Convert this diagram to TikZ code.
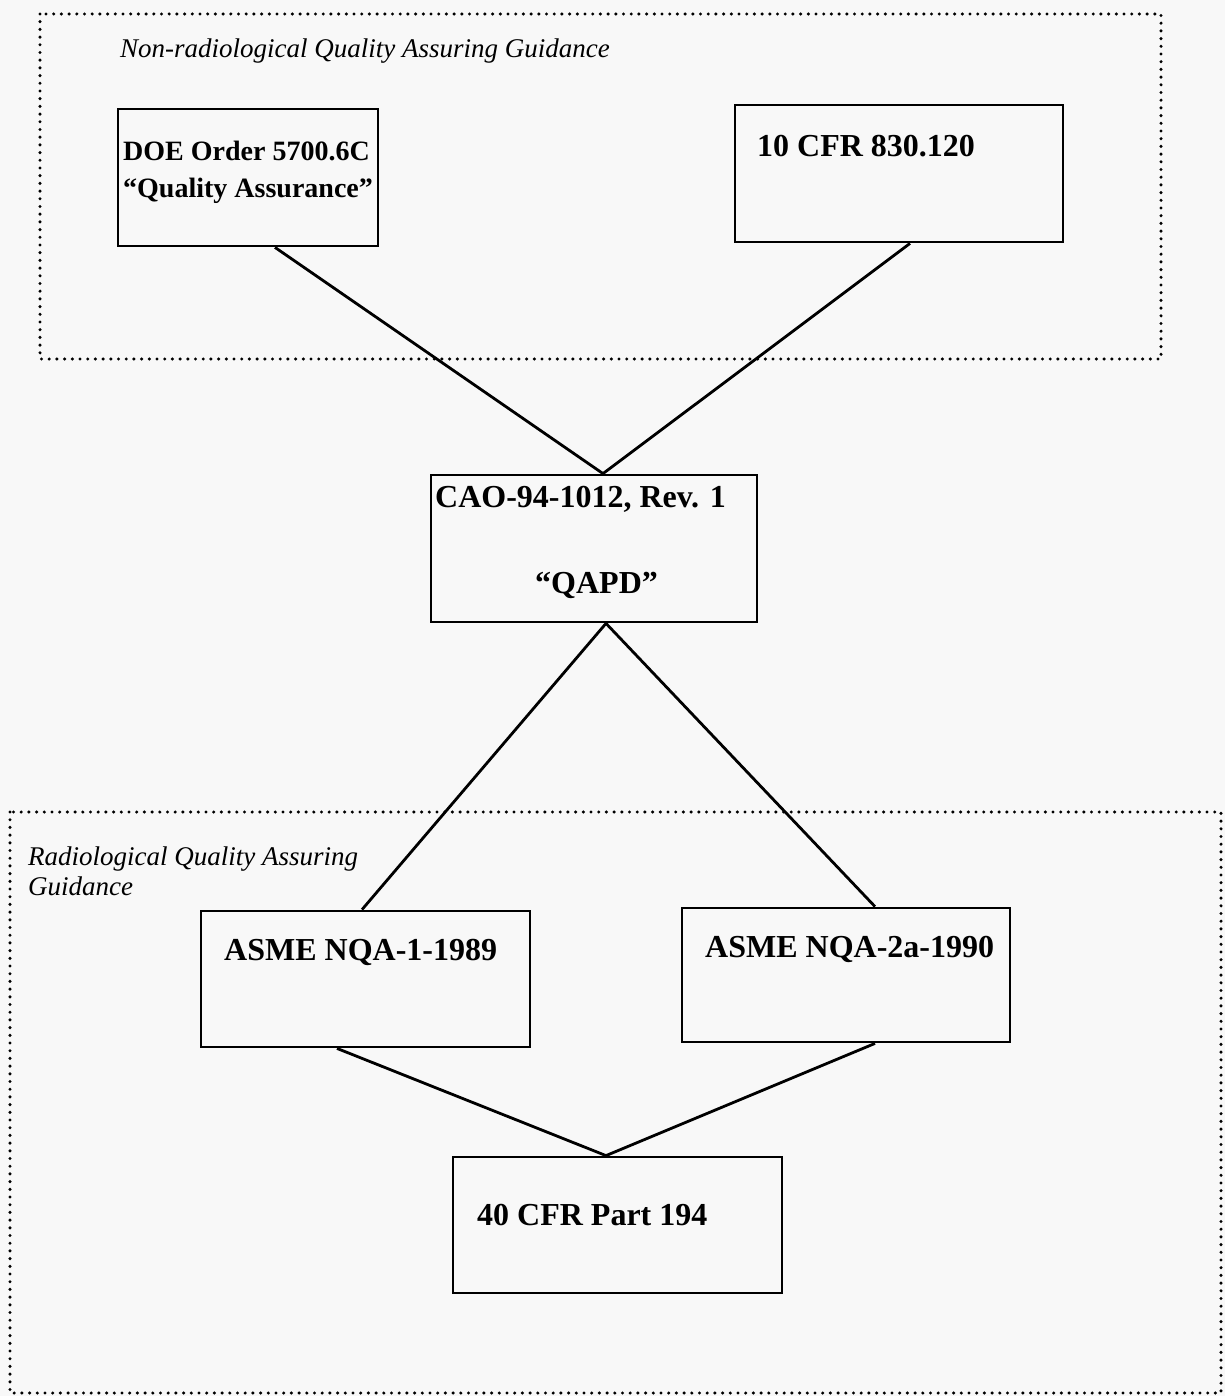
\documentclass[tikz,border=0pt]{standalone}
\usepackage{fontspec}
\setmainfont{Liberation Serif}
\usetikzlibrary{calc}
\definecolor{paper}{HTML}{F8F8F8}
\begin{document}
\begin{tikzpicture}[x=1pt,y=-1pt,
  box/.style={draw,line width=2.8pt,rectangle,inner sep=0pt},
  lbl/.style={font=\fontsize{32}{37}\selectfont\bfseries,anchor=base west,inner sep=0pt},
  lblsmall/.style={font=\fontsize{28}{37}\selectfont\bfseries,anchor=base west,inner sep=0pt},
  ttl/.style={font=\fontsize{27}{31}\selectfont\itshape,anchor=base west,inner sep=0pt},
  grp/.style={draw,line width=3.4pt,line cap=round,dash pattern=on 0pt off 7.7pt},
  link/.style={line width=2.8pt}]
\fill[paper] (0,0) rectangle (1225,1396);
\useasboundingbox (0,0) rectangle (1225,1396);

% groups
\draw[grp] (40,14) rectangle (1161,359);
\draw[grp] (10,812) rectangle (1221,1393);
\node[ttl] (t1) at (120,58) {Non-radiological Quality Assuring Guidance};
\node[ttl] (t2a) at (28,865) {Radiological Quality Assuring};
\node[ttl] (t2b) at (28,895) {Guidance};

% boxes
\node[box,minimum width=260pt,minimum height=137pt] (doe) at (248,177.5) {};
\node[box,minimum width=328pt,minimum height=137pt] (cfr10) at (899,173.5) {};
\node[box,minimum width=326pt,minimum height=147pt] (cao) at (594,548.5) {};
\node[box,minimum width=329pt,minimum height=136pt] (nqa1) at (365.5,979) {};
\node[box,minimum width=328pt,minimum height=134pt] (nqa2) at (846,975) {};
\node[box,minimum width=329pt,minimum height=136pt] (cfr40) at (617.5,1225) {};

% labels
\node[lblsmall] (doe1) at (123,161) {DOE Order 5700.6C};
\node[lblsmall] (doe2) at (123,198) {“Quality Assurance”};
\node[lbl] (cfr10l) at (757,157) {10 CFR 830.120};
\node[lbl] (cao1) at (435,507) {CAO-94-1012, Rev. 1};
\node[lbl] (cao2) at (535,593) {“QAPD”};
\node[lbl] (nqa1l) at (224,960) {ASME NQA-1-1989};
\node[lbl] (nqa2l) at (705,957) {ASME NQA-2a-1990};
\node[lbl] (cfr40l) at (477,1225) {40 CFR Part 194};

% connectors
\draw[link] ($(doe.south)+(27,0)$) -- ($(cao.north)+(9,0)$);
\draw[link] ($(cfr10.south)+(11,0)$) -- ($(cao.north)+(9,0)$);
\draw[link] ($(cao.south)+(12,0)$) -- ($(nqa1.north)+(-3.5,0)$);
\draw[link] ($(cao.south)+(12,0)$) -- ($(nqa2.north)+(29,0)$);
\draw[link] ($(nqa1.south)+(-28.5,0)$) -- ($(cfr40.north)+(-11.5,0)$);
\draw[link] ($(nqa2.south)+(29,0)$) -- ($(cfr40.north)+(-11.5,0)$);
\end{tikzpicture}
\end{document}
